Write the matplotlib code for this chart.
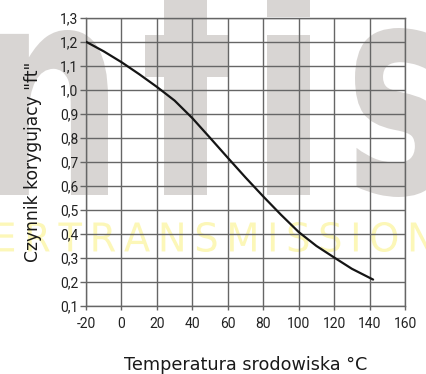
import matplotlib
matplotlib.use("Agg")
import matplotlib.pyplot as plt
from matplotlib.textpath import TextPath
from matplotlib.patches import PathPatch, Rectangle
from matplotlib.font_manager import FontProperties
from matplotlib.transforms import Affine2D

# Correction factor curve
temperature = [-20, -10, 0, 10, 20, 30, 40, 50, 60, 70, 80, 90, 100, 110, 120, 130, 142]
ft_factor = [1.20, 1.16, 1.115, 1.065, 1.012, 0.955, 0.882, 0.80, 0.717, 0.635,
             0.556, 0.48, 0.408, 0.35, 0.302, 0.255, 0.21]

x_ticks = [-20, 0, 20, 40, 60, 80, 100, 120, 140, 160]
x_tick_labels = ["-20", "0", "20", "40", "60", "80", "100", "120", "140", "160"]
y_ticks = [0.1, 0.2, 0.3, 0.4, 0.5, 0.6, 0.7, 0.8, 0.9, 1.0, 1.1, 1.2, 1.3]
y_tick_labels = ["0,1", "0,2", "0,3", "0,4", "0,5", "0,6", "0,7", "0,8", "0,9",
                 "1,0", "1,1", "1,2", "1,3"]

W, H = 426, 374
fig = plt.figure(figsize=(W / 100, H / 100), dpi=100)

tick_font = ["Roboto", "DejaVu Sans"]
label_font = ["DejaVu Sans"]

# --- background lettering -------------------------------------------------
mark_gray = "#d8d5d3"


def px_box(x0, x1, ytop, ybot):
    return x0 / W, x1 / W, 1 - ybot / H, 1 - ytop / H


def shape_text(txt, x0, x1, ytop, ybot, color, weight="bold"):
    path = TextPath((0, 0), txt, size=100,
                    prop=FontProperties(family="DejaVu Sans", weight=weight))
    ext = path.get_extents()
    fx0, fx1, fy0, fy1 = px_box(x0, x1, ytop, ybot)
    tr = (Affine2D().translate(-ext.x0, -ext.y0)
          .scale((fx1 - fx0) / ext.width, (fy1 - fy0) / ext.height)
          .translate(fx0, fy0))
    p = PathPatch(tr.transform_path(path), facecolor=color, edgecolor="none",
                  transform=fig.transFigure, zorder=-2)
    fig.add_artist(p)


def block(x0, x1, ytop, ybot):
    fx0, fx1, fy0, fy1 = px_box(x0, x1, ytop, ybot)
    r = Rectangle((fx0, fy0), fx1 - fx0, fy1 - fy0, facecolor=mark_gray,
                  edgecolor="none", transform=fig.transFigure, zorder=-2)
    fig.add_artist(r)


shape_text("n", -8, 108, 30, 195, mark_gray)
block(164, 207, -5, 195)     # t stem
block(145, 228, 35, 77)      # t bar
block(267, 310, 35, 195)     # i stem
block(267, 310, -5, 17)      # i dot
shape_text("s", 355, 445, 28, 197, mark_gray)
shape_text("E\u2009R\u2009T\u2009R\u2009A\u2009N\u2009S\u2009M\u2009I\u2009S\u2009S\u2009I\u2009O\u2009N",
           -4, 432, 222, 252, "#fcf7b8", weight="normal")

# --- chart -----------------------------------------------------------------
ax = fig.add_axes([86 / W, 1 - 306 / H, (405 - 86) / W, (306 - 17.7) / H])
ax.set_facecolor("none")
ax.plot(temperature, ft_factor, color="#151515", lw=1.6, zorder=3,
        solid_capstyle="round")

ax.set_xlim(-20, 160)
ax.set_ylim(0.1, 1.3)
ax.set_xticks(x_ticks)
ax.set_xticklabels(x_tick_labels)
ax.set_yticks(y_ticks)
ax.set_yticklabels(y_tick_labels)
ax.grid(True, color="#666666", lw=1.0)
for s in ax.spines.values():
    s.set_color("#666666")
    s.set_linewidth(1.0)

ax.tick_params(axis="y", length=4, width=1.0, color="#666666", pad=1.5,
               labelsize=10, labelcolor="#222222")
ax.tick_params(axis="x", length=3, width=1.0, color="#666666", pad=5,
               labelsize=10, labelcolor="#222222")
for lab in ax.get_xticklabels() + ax.get_yticklabels():
    lab.set_family(tick_font)

ax.set_xlabel("Temperatura srodowiska °C", family=label_font, fontsize=12.7,
              color="#1a1a1a", labelpad=18)
ax.set_ylabel('Czynnik korygujacy "ft"', family=label_font, fontsize=12.3,
              color="#1a1a1a", labelpad=13)

fig.savefig("out.png", dpi=100)
